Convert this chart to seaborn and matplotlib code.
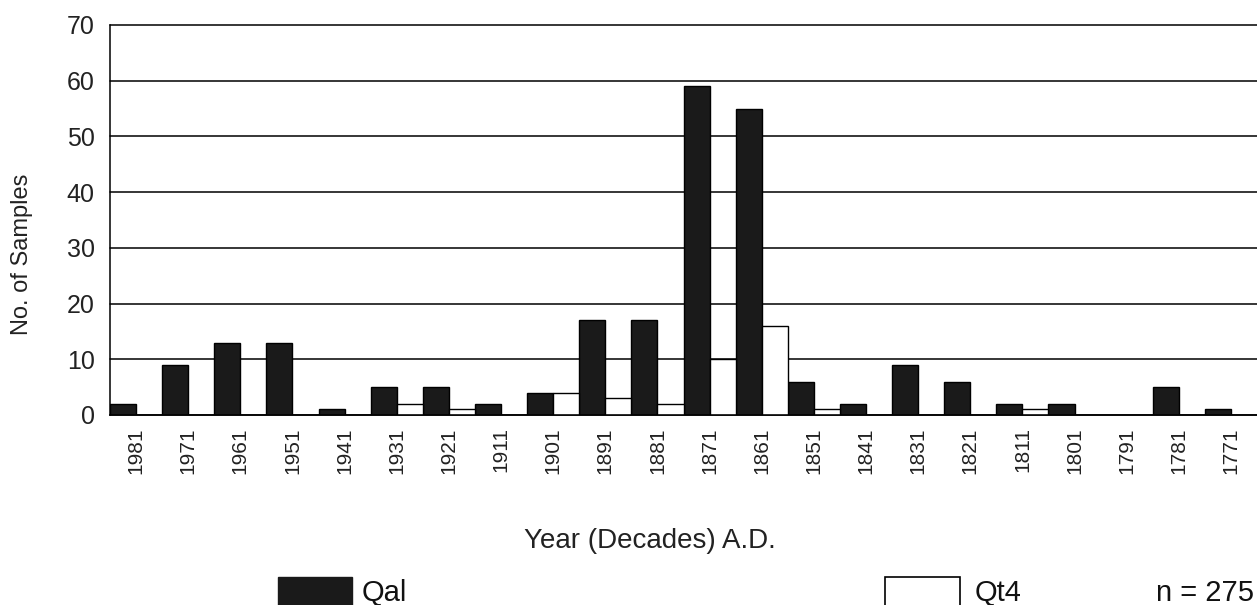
import numpy as np
import pandas as pd
import seaborn as sns
import matplotlib.pyplot as plt
from matplotlib import font_manager
from matplotlib.patches import Rectangle

# Data
decades = ['1981', '1971', '1961', '1951', '1941', '1931', '1921', '1911', '1901', '1891', '1881',
           '1871', '1861', '1851', '1841', '1831', '1821', '1811', '1801', '1791', '1781', '1771']
qal = [2, 9, 13, 13, 1, 5, 5, 2, 4, 17, 17, 59, 55, 6, 2, 9, 6, 2, 2, 0, 5, 1]
qt4 = [0, 0, 0, 0, 0, 2, 1, 0, 4, 3, 2, 10, 16, 1, 0, 0, 0, 1, 0, 0, 0, 0]
yticks = [0, 10, 20, 30, 40, 50, 60, 70]

df = pd.DataFrame({
    'decade': decades * 2,
    'count': qal + qt4,
    'unit': ['Qal'] * len(qal) + ['Qt4'] * len(qt4),
})

sns.set_style('white')
names = {f.name for f in font_manager.fontManager.ttflist}
narrow = 'Liberation Sans Narrow' if 'Liberation Sans Narrow' in names else 'Liberation Sans'
plt.rcParams['font.family'] = ['Liberation Sans', 'DejaVu Sans']

fig = plt.figure(figsize=(12.57, 6.05), dpi=100)
ax = fig.add_axes([110 / 1257, 1 - 415 / 605, 1147 / 1257, 390 / 605])

sns.barplot(data=df, x='decade', y='count', hue='unit', order=decades,
            hue_order=['Qal', 'Qt4'], palette={'Qal': '#1a1a1a', 'Qt4': 'white'},
            width=1.0, gap=0, edgecolor='black', linewidth=1.0, legend=False, ax=ax,
            zorder=2)

ax.set_xlim(-0.5, len(decades) - 0.5)
ax.set_ylim(0, 70)
ax.set_yticks(yticks)
ax.set_yticklabels([str(v) for v in yticks], fontsize=18, color='#222222')

# tick marks between categories, labels centred on categories
ax.set_xticks(np.arange(len(decades)) - 0.5)
ax.set_xticklabels([])
ax.set_xticks(np.arange(len(decades)), minor=True)
ax.set_xticklabels(decades, minor=True, rotation=90, fontsize=15, color='#222222')
ax.tick_params(axis='x', which='major', direction='out', length=7, width=1.1, color='black')
ax.tick_params(axis='x', which='minor', length=0, pad=9)
ax.tick_params(axis='y', direction='out', length=6, width=1.1, color='black', pad=5)

ax.yaxis.grid(True, color='black', linewidth=1.1)
ax.set_axisbelow(True)
for line in ax.get_ygridlines():
    line.set_clip_on(False)
for s in ['top', 'right']:
    ax.spines[s].set_visible(False)
for s in ['left', 'bottom']:
    ax.spines[s].set_color('black')
    ax.spines[s].set_linewidth(1.1)

ax.set_xlabel('Year (Decades) A.D.', fontsize=20, color='#222222', va='top')
ax.xaxis.set_label_coords(0.471, -0.29)
ax.set_ylabel('No. of Samples', fontsize=17, color='#222222')
ax.yaxis.set_label_coords(-0.067, 0.413)

# legend drawn along the bottom edge, cut off like the original
fig.patches.append(Rectangle((278 / 1257, -0.02), 74 / 1257, 0.066, transform=fig.transFigure,
                             facecolor='#1a1a1a', edgecolor='#1a1a1a', figure=fig))
fig.patches.append(Rectangle((885 / 1257, -0.02), 75 / 1257, 0.066, transform=fig.transFigure,
                             facecolor='white', edgecolor='black', linewidth=1.2, figure=fig))
fig.text(362 / 1257, 0.006, 'Qal', fontsize=21, family=narrow, color='#111111', va='baseline')
fig.text(975 / 1257, 0.006, 'Qt4', fontsize=21, family=narrow, color='#111111', va='baseline')
fig.text(1254 / 1257, 0.006, 'n = 275', fontsize=21, family=narrow, color='#111111',
         va='baseline', ha='right')

fig.savefig('out.png', dpi=100)
